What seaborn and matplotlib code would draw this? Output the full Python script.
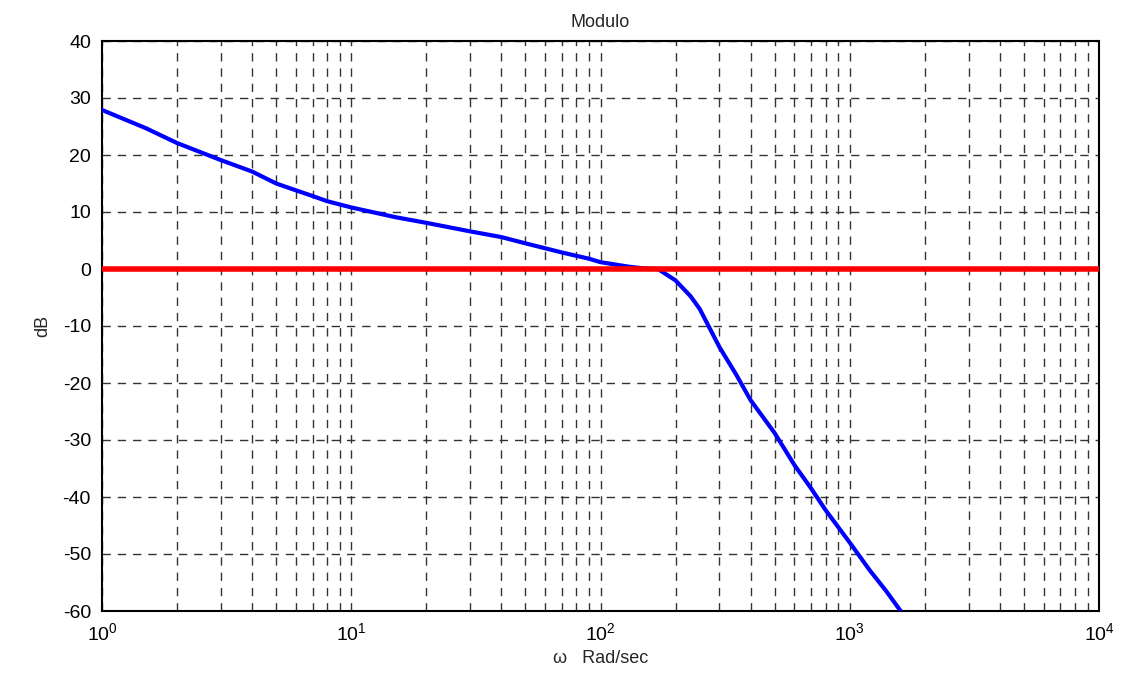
import matplotlib
matplotlib.use("Agg")
import matplotlib.pyplot as plt
import seaborn as sns
import pandas as pd
import numpy as np
from matplotlib.ticker import LogLocator, FixedLocator

omega = [1, 1.5, 2, 3, 4, 5, 6, 7, 8, 10, 15, 20, 30, 40, 50, 70, 90, 100, 130, 150, 170, 200, 230, 250, 300, 350, 400, 500, 600, 700, 800, 1000, 1200, 1400, 1600]
mag_db = [27.9, 24.7, 22.1, 19.1, 17.1, 15.0, 13.8, 12.8, 11.9, 10.8, 9.1, 8.1, 6.6, 5.6, 4.5, 2.9, 1.8, 1.2, 0.4, 0.1, 0.0, -2.0, -4.8, -7.0, -13.7, -18.5, -23.0, -28.8, -34.4, -38.5, -42.3, -48.0, -52.8, -56.5, -60.0]
zero_line_x = [1, 10000]
zero_line_y = [0, 0]
y_ticks = [40, 30, 20, 10, 0, -10, -20, -30, -40, -50, -60]

sns.set_style("white")
plt.rcParams['font.family'] = ['Liberation Sans', 'DejaVu Sans']
plt.rcParams['axes.unicode_minus'] = False

fig = plt.figure(figsize=(11.22, 6.83), dpi=100)
ax = fig.add_axes([102/1122, 1-611/683, (1099-102)/1122, (611-41)/683])

df = pd.DataFrame({"omega": omega, "dB": mag_db})
sns.lineplot(data=df, x="omega", y="dB", ax=ax, color="#0000ff", linewidth=3, zorder=3)
ax.plot(zero_line_x, zero_line_y, color="#ff0000", linewidth=4, zorder=4, solid_capstyle="butt")

ax.set_xscale("log")
ax.set_xlim(1, 10000)
ax.set_ylim(-60, 40)
ax.yaxis.set_major_locator(FixedLocator(y_ticks))
ax.xaxis.set_major_locator(LogLocator(base=10, numticks=10))
ax.xaxis.set_minor_locator(LogLocator(base=10, subs=np.arange(2, 10), numticks=50))

ax.grid(True, which="major", axis="both", color="#333333", linestyle=(0, (6, 5)), linewidth=1)
ax.grid(True, which="minor", axis="x", color="#333333", linestyle=(0, (6, 5)), linewidth=1)
ax.set_axisbelow(True)

for s in ax.spines.values():
    s.set_visible(True)
    s.set_color("black")
    s.set_linewidth(1.5)

ax.tick_params(axis="both", which="major", direction="in", length=4, labelsize=14, colors="black", pad=8)
ax.tick_params(axis="x", which="minor", direction="in", length=3)

ax.set_title("Modulo", fontsize=13, pad=10)
ax.set_xlabel("ω   Rad/sec", fontsize=13, labelpad=4)
ax.set_ylabel("dB", fontsize=13, labelpad=8)

fig.savefig("out.png", dpi=100)
